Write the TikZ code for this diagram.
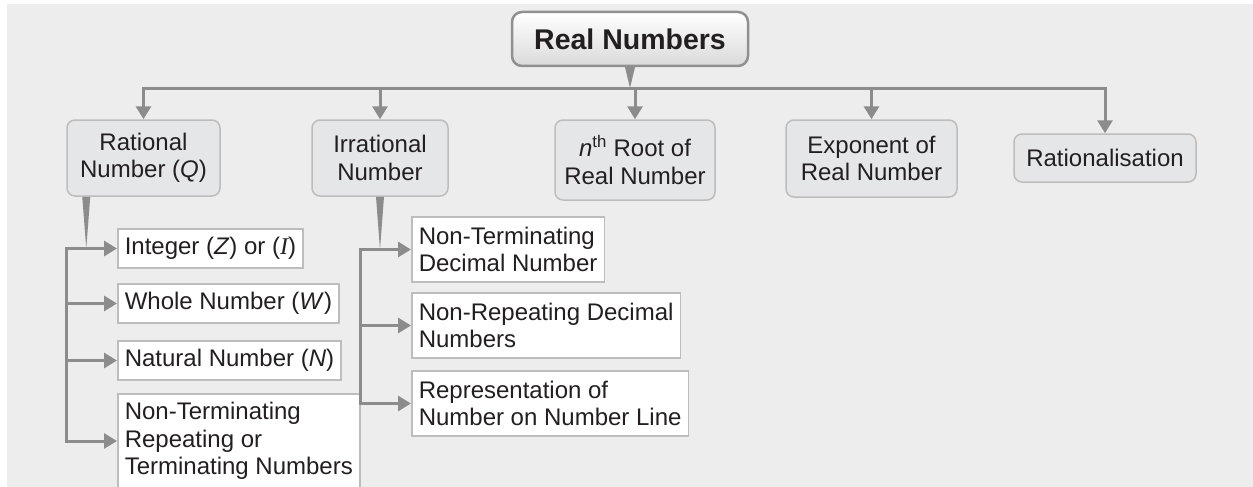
\documentclass[tikz,border=0pt]{standalone}
\usepackage{fontspec}
\setmainfont{Liberation Sans}
\newfontfamily\tmsfont{Liberation Serif}
\usetikzlibrary{arrows.meta,calc}

\definecolor{bg}{HTML}{EDEDED}
\definecolor{conn}{HTML}{8C8C8C}
\definecolor{boxfill}{HTML}{E5E6E8}
\definecolor{boxline}{HTML}{BDBDBD}
\definecolor{rootline}{HTML}{909090}
\definecolor{rootshade}{HTML}{DADADA}
\definecolor{ink}{HTML}{231F20}

\begin{document}
\begin{tikzpicture}[x=1pt,y=-1pt,
  every node/.style={text=ink, font=\fontsize{24}{27.5}\selectfont},
  topbox/.style={draw=boxline, line width=1.5pt, fill=boxfill, rounded corners=8pt,
    align=center, inner sep=0pt},
  subbox/.style={draw=boxline, line width=1.5pt, fill=white, align=left,
    anchor=west, inner xsep=7pt, inner ysep=0pt},
  link/.style={draw=conn, line width=3pt, line cap=rect, line join=miter,
    -{Triangle[width=15pt,length=13pt]}},
  bar/.style={draw=conn, line width=3pt, line cap=rect}]

% page and background
\useasboundingbox (0,0) rectangle (1253,487);
\fill[bg] (7,4) rectangle (1253,487);

% root
\node[draw=rootline, line width=2.5pt, rounded corners=10pt, top color=white,
  bottom color=rootshade, minimum width=236pt, minimum height=54pt, inner sep=0pt,
  font=\fontsize{28.5}{32}\selectfont\bfseries] (real) at (630,39) {Real Numbers};

% first level
\node[topbox, minimum width=153pt, minimum height=76pt] (rational) at (143.5,158)
  {Rational\\Number (\textit{Q})};
\node[topbox, minimum width=136pt, minimum height=76pt] (irr) at (380,158)
  {Irrational\\Number};
\node[topbox, minimum width=160pt, minimum height=80pt] (nroot) at (635,160)
  {\textit{n}\textsuperscript{th} Root of\\Real Number};
\node[topbox, minimum width=171pt, minimum height=77pt] (expo) at (871.5,158.5)
  {Exponent of\\Real Number};
\node[topbox, minimum width=182pt, minimum height=48pt] (ratl) at (1105,158)
  {Rationalisation};

% kinds of rational numbers
\node[subbox, minimum height=39pt] (int) at (117,248.5)
  {Integer (\textit{Z}) or ({\tmsfont\itshape I})};
\node[subbox, minimum height=39pt] (whole) at (117,303.5)
  {Whole Number (\textit{W})};
\node[subbox, minimum height=39pt] (nat) at (117,360.5)
  {Natural Number (\textit{N})};
\node[subbox, minimum height=94pt] (ntr) at (117,441)
  {Non-Terminating\\Repeating or\\Terminating Numbers};

% properties of irrational numbers
\node[subbox, minimum height=65pt] (ntd) at (411,249.5)
  {Non-Terminating\\Decimal Number};
\node[subbox, minimum height=65pt] (nrd) at (411,325.5)
  {Non-Repeating Decimal\\Numbers};
\node[subbox, minimum height=65pt] (rep) at (411,403.5)
  {Representation of\\Number on Number Line};

% bus under the root
\coordinate (bus) at (630,88);
\fill[conn] ($(real.south)+(-5,0)$) -- ($(real.south)+(5,0)$) -- (real.south |- bus) -- cycle;
\draw[link] (nroot.north |- bus) -| (rational.north);
\draw[link] (nroot.north |- bus) -| (ratl.north);
\draw[link] (irr.north |- bus) -- (irr.north);
\draw[link] (nroot.north |- bus) -- (nroot.north);
\draw[link] (expo.north |- bus) -- (expo.north);

% rational branch
\coordinate (rw) at ($(rational.south west)+(20,0)$);
\coordinate (rs) at (rational.south west);
\fill[conn] ($(rw)+(-4,0)$) -- ($(rw)+(4,0)$) -- (rw |- int.west) -- cycle;
\draw[link] (rs |- int.west) |- (ntr.west);
\draw[link] (rs |- int.west) -- (int.west);
\draw[link] (rs |- whole.west) -- (whole.west);
\draw[link] (rs |- nat.west) -- (nat.west);

% irrational branch
\coordinate (is) at ($(irr.south west)+(49,0)$);
\fill[conn] ($(irr.south)+(-4,0)$) -- ($(irr.south)+(4,0)$) -- (irr.south |- ntd.west) -- cycle;
\draw[link] (is |- ntd.west) |- (rep.west);
\draw[link] (is |- ntd.west) -- (ntd.west);
\draw[link] (is |- nrd.west) -- (nrd.west);
\end{tikzpicture}
\end{document}
